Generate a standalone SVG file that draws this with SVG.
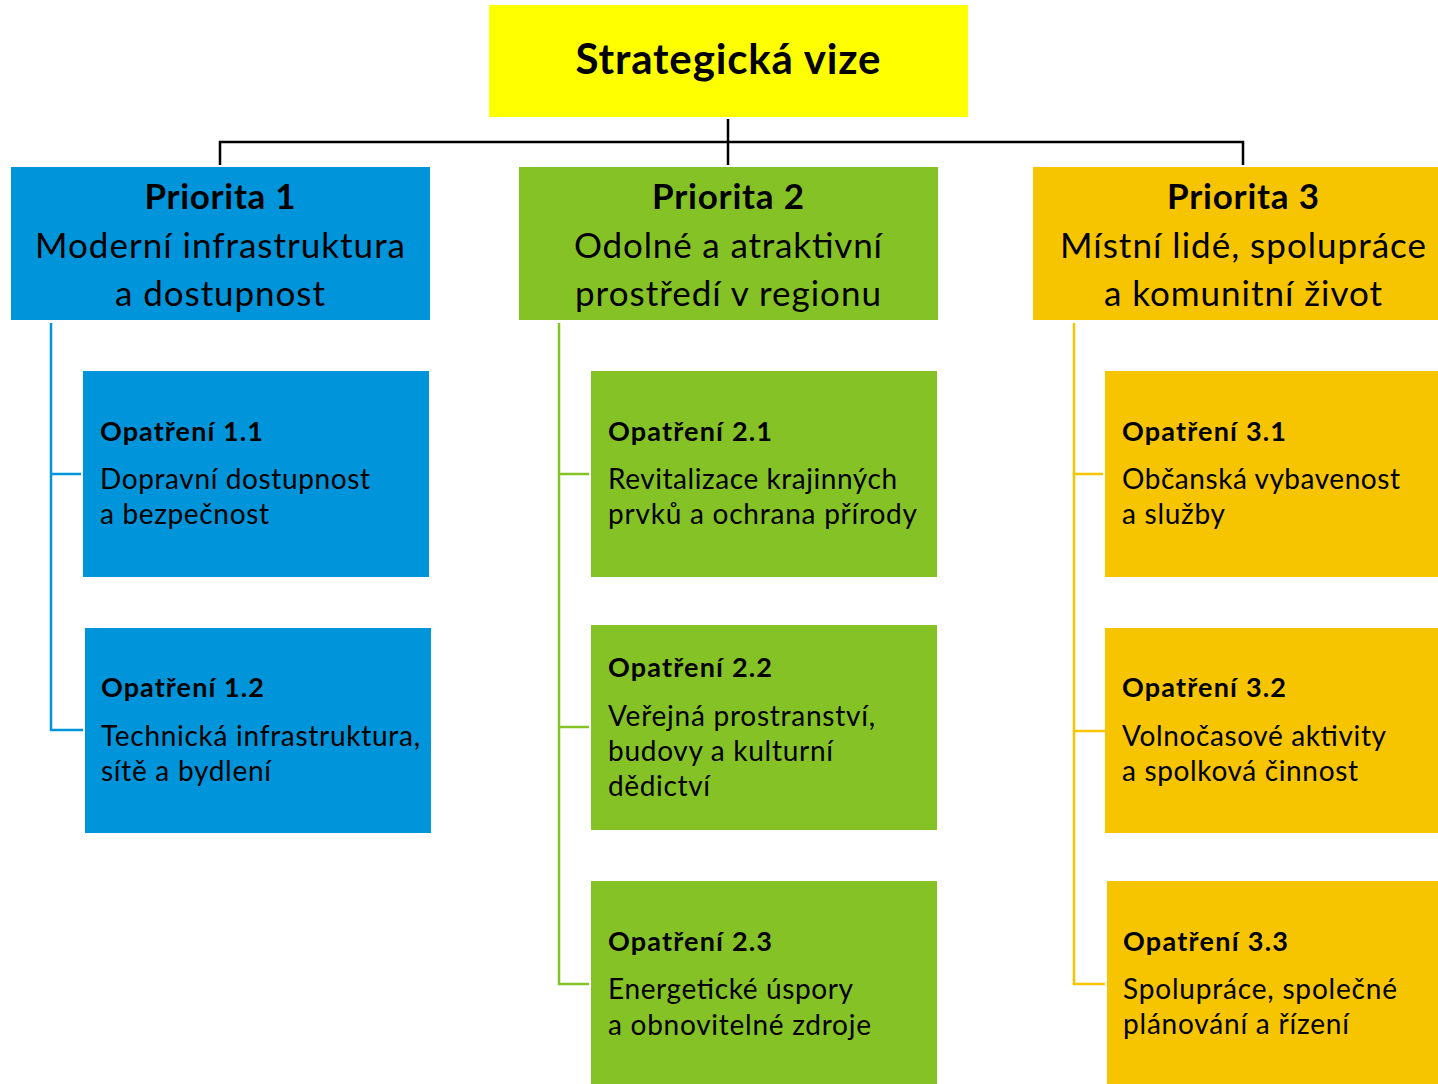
<svg xmlns="http://www.w3.org/2000/svg" width="1438" height="1084" viewBox="0 0 1438 1084">
<style>
text{font-family:Lato,"Open Sans","Liberation Sans",sans-serif;fill:#000}
.t{font-size:42px;font-weight:bold}
.ph{font-size:35px;font-weight:bold}
.p{font-size:35px}
.mh{font-size:27px;font-weight:bold}
.m{font-size:28px}
.blue{fill:#0095DA}
.green{fill:#85C226}
.orange{fill:#F7C400}
.k{stroke:#000;stroke-width:2.5;fill:none}
.cb{stroke:#0095DA;stroke-width:2.5;fill:none}
.cg{stroke:#85C226;stroke-width:2.5;fill:none}
.co{stroke:#F7C400;stroke-width:2.5;fill:none}
</style>
<g id="connectors">
<path class="k" d="M728 119V165M220 165V142H1243V165"/>
<path class="cb" d="M51 323V730H83M51 474H81"/>
<path class="cg" d="M559 323V984H589M559 474H589M559 727H589"/>
<path class="co" d="M1074 323V984H1105M1074 474H1103M1074 731H1105"/>
</g>
<g id="vize">
<rect x="489" y="5" width="479" height="112" fill="#FFFF00"/>
<text class="t" x="728" y="74" text-anchor="middle" textLength="305">Strategická vize</text>
</g>
<g id="p1">
<rect class="blue" x="11" y="167" width="419" height="153"/>
<text class="ph" x="220" y="209" text-anchor="middle" textLength="151">Priorita 1</text>
<text class="p" x="220" y="258" text-anchor="middle" textLength="370">Moderní infrastruktura</text>
<text class="p" x="220" y="306" text-anchor="middle" textLength="210">a dostupnost</text>
</g>
<g id="p2">
<rect class="green" x="519" y="167" width="419" height="153"/>
<text class="ph" x="728" y="209" text-anchor="middle" textLength="152">Priorita 2</text>
<text class="p" x="728" y="258" text-anchor="middle" textLength="308">Odolné a atraktivní</text>
<text class="p" x="728" y="306" text-anchor="middle" textLength="306">prostředí v regionu</text>
</g>
<g id="p3">
<rect class="orange" x="1033" y="167" width="405" height="153"/>
<text class="ph" x="1243" y="209" text-anchor="middle" textLength="152">Priorita 3</text>
<text class="p" x="1243" y="258" text-anchor="middle" textLength="366">Místní lidé, spolupráce</text>
<text class="p" x="1243" y="306" text-anchor="middle" textLength="278">a komunitní život</text>
</g>
<g id="o11">
<rect class="blue" x="83" y="371" width="346" height="206"/>
<text class="mh" x="100" y="441" textLength="163">Opatření 1.1</text>
<text class="m" x="100" y="489" textLength="270">Dopravní dostupnost</text>
<text class="m" x="100" y="524" textLength="169">a bezpečnost</text>
</g>
<g id="o12">
<rect class="blue" x="85" y="628" width="346" height="205"/>
<text class="mh" x="101" y="697" textLength="163">Opatření 1.2</text>
<text class="m" x="101" y="746" textLength="319">Technická infrastruktura,</text>
<text class="m" x="101" y="781" textLength="170">sítě a bydlení</text>
</g>
<g id="o21">
<rect class="green" x="591" y="371" width="346" height="206"/>
<text class="mh" x="608" y="441" textLength="164">Opatření 2.1</text>
<text class="m" x="608" y="489" textLength="289">Revitalizace krajinných</text>
<text class="m" x="608" y="524" textLength="309">prvků a ochrana přírody</text>
</g>
<g id="o22">
<rect class="green" x="591" y="625" width="346" height="205"/>
<text class="mh" x="608" y="677" textLength="164">Opatření 2.2</text>
<text class="m" x="608" y="726" textLength="267">Veřejná prostranství,</text>
<text class="m" x="608" y="761" textLength="225">budovy a kulturní</text>
<text class="m" x="608" y="796" textLength="102">dědictví</text>
</g>
<g id="o23">
<rect class="green" x="591" y="881" width="346" height="203"/>
<text class="mh" x="608" y="951" textLength="164">Opatření 2.3</text>
<text class="m" x="608" y="999" textLength="245">Energetické úspory</text>
<text class="m" x="608" y="1035" textLength="263">a obnovitelné zdroje</text>
</g>
<g id="o31">
<rect class="orange" x="1105" y="371" width="333" height="206"/>
<text class="mh" x="1122" y="441" textLength="164">Opatření 3.1</text>
<text class="m" x="1122" y="489" textLength="278">Občanská vybavenost</text>
<text class="m" x="1122" y="524" textLength="103">a služby</text>
</g>
<g id="o32">
<rect class="orange" x="1105" y="628" width="333" height="205"/>
<text class="mh" x="1122" y="697" textLength="164">Opatření 3.2</text>
<text class="m" x="1122" y="746" textLength="264">Volnočasové aktivity</text>
<text class="m" x="1122" y="781" textLength="236">a spolková činnost</text>
</g>
<g id="o33">
<rect class="orange" x="1107" y="881" width="331" height="203"/>
<text class="mh" x="1123" y="951" textLength="165">Opatření 3.3</text>
<text class="m" x="1123" y="999" textLength="274">Spolupráce, společné</text>
<text class="m" x="1123" y="1034" textLength="226">plánování a řízení</text>
</g>
</svg>
